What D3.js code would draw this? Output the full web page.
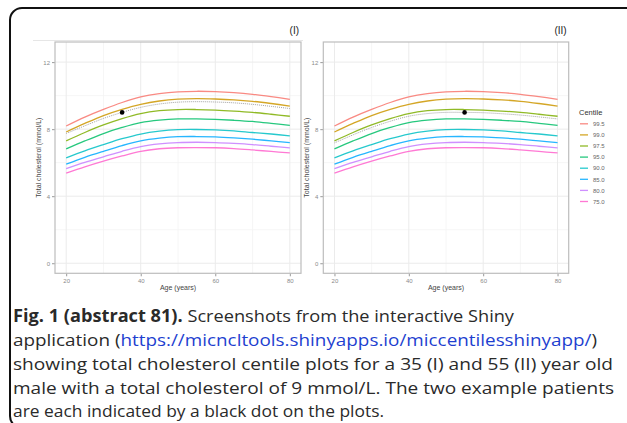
<!DOCTYPE html>
<html><head><meta charset="utf-8">
<script src="https://cdn.jsdelivr.net/npm/d3@7"></script>
<style>html,body{margin:0;padding:0;background:#fff;}svg{display:block;}</style>
</head><body>
<svg id="chart" width="627" height="423"></svg>
<script>
const ages = [20,25,30,35,40,45,50,55,60,65,70,75,80];
const centiles = ["99.5","99.0","97.5","95.0","90.0","85.0","80.0","75.0"];
const colors = ["#F8766D","#CD9600","#7CAE00","#00BE67","#00BFC4","#00A9FF","#C77CFF","#FF61CC"];
const c995 = [8.19,8.72,9.18,9.59,9.92,10.12,10.23,10.26,10.24,10.18,10.08,9.94,9.78];
const c990 = [7.83,8.34,8.81,9.18,9.48,9.68,9.79,9.82,9.80,9.75,9.66,9.53,9.38];
const c975 = [7.30,7.80,8.25,8.63,8.93,9.10,9.17,9.17,9.14,9.08,9.00,8.89,8.77];
const c950 = [6.82,7.30,7.74,8.10,8.39,8.54,8.61,8.61,8.58,8.53,8.46,8.35,8.23];
const c900 = [6.29,6.71,7.08,7.43,7.71,7.88,7.97,7.98,7.96,7.90,7.80,7.71,7.60];
const c850 = [5.91,6.32,6.68,7.02,7.30,7.46,7.55,7.56,7.54,7.48,7.40,7.30,7.20];
const c800 = [5.65,6.02,6.35,6.68,6.96,7.12,7.20,7.22,7.20,7.15,7.08,6.98,6.88];
const c750 = [5.38,5.75,6.09,6.40,6.68,6.83,6.89,6.90,6.89,6.84,6.76,6.67,6.58];
const patientCurveI  = [7.74,8.20,8.64,9.00,9.30,9.50,9.61,9.64,9.62,9.57,9.48,9.36,9.23];
const patientCurveII = [7.18,7.66,8.10,8.47,8.77,8.93,9.00,9.00,8.98,8.92,8.84,8.73,8.61];
const patientAges = [35, 55];
const patientValues = [9, 9];
const panelTitles = ["(I)", "(II)"];
const xTicks = [20,40,60,80];
const xMinor = [30,50,70];
const yTicks = [0,4,8,12];
const yMinor = [2,6,10];
const seriesValues = [c995,c990,c975,c950,c900,c850,c800,c750];
const patientCurves = [patientCurveI, patientCurveII];

const svg = d3.select("#chart");

svg.append("rect").attr("x",10).attr("y",8).attr("width",660).attr("height",420)
  .attr("rx",12).attr("fill","none").attr("stroke","#111").attr("stroke-width",2);

svg.append("line").attr("x1",33).attr("x2",303).attr("y1",40.5).attr("y2",40.5)
  .attr("stroke","#e6e6e6").attr("stroke-width",1);

const panels = [{x0:55, x1:301}, {x0:323.3, x1:568.7}];
const yTop = 42, yBot = 273.3;

panels.forEach((p, pi) => {
  const x = d3.scaleLinear().domain([17,83]).range([p.x0, p.x1]);
  const y = d3.scaleLinear().domain([-0.6,13.2]).range([yBot, yTop]);
  const g = svg.append("g");

  g.selectAll(".xm").data(xMinor).join("line")
    .attr("x1",d=>x(d)).attr("x2",d=>x(d)).attr("y1",yTop).attr("y2",yBot)
    .attr("stroke","#f4f4f4").attr("stroke-width",0.8);
  g.selectAll(".ym").data(yMinor).join("line")
    .attr("x1",p.x0).attr("x2",p.x1).attr("y1",d=>y(d)).attr("y2",d=>y(d))
    .attr("stroke","#f4f4f4").attr("stroke-width",0.8);
  g.selectAll(".xg").data(xTicks).join("line")
    .attr("x1",d=>x(d)).attr("x2",d=>x(d)).attr("y1",yTop).attr("y2",yBot)
    .attr("stroke","#ebebeb").attr("stroke-width",1);
  g.selectAll(".yg").data(yTicks).join("line")
    .attr("x1",p.x0).attr("x2",p.x1).attr("y1",d=>y(d)).attr("y2",d=>y(d))
    .attr("stroke","#ebebeb").attr("stroke-width",1);

  const xa = g.append("g").attr("transform",`translate(0,${yBot})`)
    .call(d3.axisBottom(x).tickValues(xTicks).tickSize(3).tickPadding(2));
  const ya = g.append("g").attr("transform",`translate(${p.x0},0)`)
    .call(d3.axisLeft(y).tickValues(yTicks).tickSize(3).tickPadding(2));
  [xa, ya].forEach(a => {
    a.select(".domain").remove();
    a.selectAll(".tick line").attr("stroke","#999");
    a.selectAll(".tick text").attr("fill","#8a8a8a").style("font-family","Liberation Sans, Arial, sans-serif").style("font-size","6px");
  });

  const line = d3.line().x((d,i)=>x(ages[i])).y(d=>y(d)).curve(d3.curveCatmullRom.alpha(0.5));
  seriesValues.forEach((vals, si) => {
    g.append("path").datum(vals).attr("d", line).attr("fill","none")
      .attr("stroke", colors[si]).attr("stroke-width",1.3).attr("stroke-opacity",0.85);
  });
  g.append("path").datum(patientCurves[pi]).attr("d", line).attr("fill","none")
    .attr("stroke","#999").attr("stroke-width",0.9).attr("stroke-dasharray","1,1");
  g.append("circle").attr("cx", x(patientAges[pi])).attr("cy", y(patientValues[pi]))
    .attr("r",2.3).attr("fill","#000");

  g.append("rect").attr("x",p.x0).attr("y",yTop).attr("width",p.x1-p.x0).attr("height",yBot-yTop)
    .attr("fill","none").attr("stroke","#bdbdbd").attr("stroke-width",1.2);

  g.append("text").attr("x",p.x1-2).attr("y",34).attr("text-anchor","end")
    .style("font-family","Liberation Sans, Arial, sans-serif").style("font-size","10px").attr("fill","#222")
    .text(panelTitles[pi]);
  g.append("text").attr("x",(p.x0+p.x1)/2).attr("y",290).attr("text-anchor","middle")
    .style("font-family","Liberation Sans, Arial, sans-serif").style("font-size","7px").attr("fill","#444")
    .text("Age (years)");
  g.append("text").attr("transform",`translate(${p.x0-14},${(yTop+yBot)/2}) rotate(-90)`)
    .attr("text-anchor","middle")
    .style("font-family","Liberation Sans, Arial, sans-serif").style("font-size","7px").attr("fill","#444")
    .text("Total cholesterol (mmol/L)");
});

const lg = svg.append("g");
lg.append("text").attr("x",579).attr("y",115).style("font-family","Liberation Sans, Arial, sans-serif")
  .style("font-size","7.5px").attr("fill","#333").text("Centile");
centiles.forEach((c, i) => {
  const yy = 123.8 + i*11.1;
  lg.append("line").attr("x1",580).attr("x2",588).attr("y1",yy).attr("y2",yy)
    .attr("stroke",colors[i]).attr("stroke-width",1.3).attr("stroke-opacity",0.85);
  lg.append("text").attr("x",593).attr("y",yy+2.2).style("font-family","Liberation Sans, Arial, sans-serif")
    .style("font-size","6px").attr("fill","#666").text(c);
});

const cap = svg.append("g").style("font-family","Open Sans, sans-serif").style("font-size","17px").attr("fill","#2a2a2a");
const capLines = [
  {y:322, w:501, parts:[["Fig. 1 (abstract 81).","b"],[" Screenshots from the interactive Shiny","n"]]},
  {y:346, w:584, parts:[["application (","n"],["https://micncltools.shinyapps.io/miccentilesshinyapp/","l"],[")","n"]]},
  {y:370, w:600, parts:[["showing total cholesterol centile plots for a 35 (I) and 55 (II) year old","n"]]},
  {y:394, w:601, parts:[["male with a total cholesterol of 9 mmol/L. The two example patients","n"]]},
  {y:417, w:371, parts:[["are each indicated by a black dot on the plots.","n"]]}
];
capLines.forEach(l => {
  const t = cap.append("text").attr("x",13).attr("y",l.y).attr("xml:space","preserve");
  l.parts.forEach(([s,k]) => {
    const ts = t.append("tspan").text(s);
    if (k==="b") ts.style("font-weight","bold");
    if (k==="l") ts.attr("fill","#1e3fd0");
  });
  t.attr("textLength", l.w).attr("lengthAdjust","spacingAndGlyphs");
});
</script>
</body></html>
